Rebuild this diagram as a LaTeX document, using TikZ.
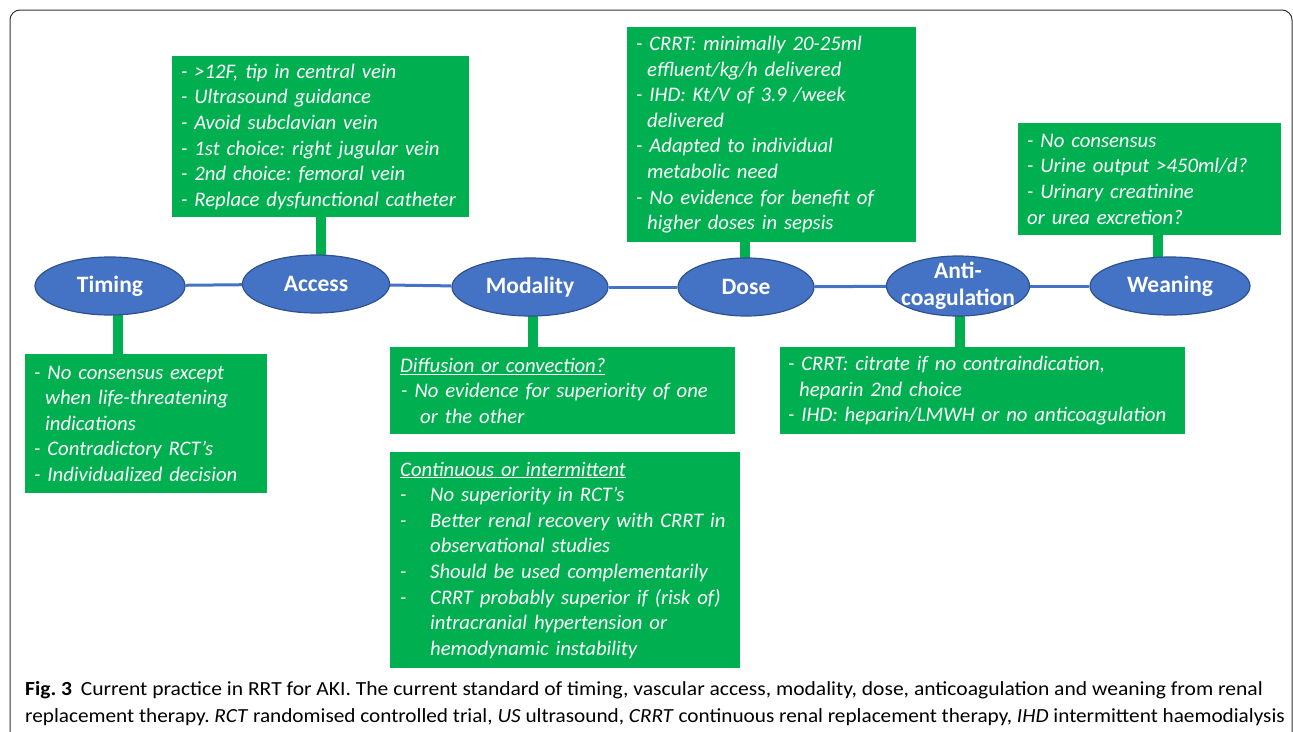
\documentclass[tikz,border=0pt]{standalone}
\usepackage{fontspec}
\setmainfont{Carlito}
\usetikzlibrary{shapes.geometric,backgrounds}
\definecolor{gr}{HTML}{00B050}
\definecolor{bl}{HTML}{4472C4}
\definecolor{bld}{HTML}{2F528F}
\definecolor{frame}{HTML}{333333}
\frenchspacing
\tikzset{
  ell/.style={ellipse, draw=bld, fill=bl, line width=1.2pt, text=white,
    font=\bfseries\fontsize{23.5}{27}\selectfont, inner sep=0pt, align=center},
  gbox/.style={fill=gr, text=white, anchor=north west, inner ysep=0pt, inner xsep=9pt,
    font=\itshape\fontsize{20.7}{25.6}\selectfont, align=left},
  stem/.style={draw=gr, line width=10pt},
  link/.style={draw=bl, line width=3pt},
  captext/.style={anchor=base west, inner sep=0pt, font=\fontsize{20}{24}\selectfont}
}
\newcommand{\ind}{\hspace*{11pt}}
\newcommand{\dsh}{\makebox[30pt][l]{-}}
\begin{document}
\begin{tikzpicture}[x=1pt,y=-1pt]
\useasboundingbox (0,0) rectangle (1293,731);
\draw[frame, line width=1pt, rounded corners=10pt] (10,760) -- (10,10) -- (1292,10) -- (1292,760);

% ellipses
\node[ell, minimum width=150pt, minimum height=58pt] (timing) at (110,286) {Timing};
\node[ell, minimum width=147pt, minimum height=58pt] (access) at (316,284) {Access};
\node[ell, minimum width=156pt, minimum height=58pt] (modality) at (530,287) {Modality};
\node[ell, minimum width=136pt, minimum height=58pt] (dose) at (746,287) {Dose};
\node[ell, minimum width=143pt, minimum height=60pt, inner xsep=-14pt, inner ysep=-7pt] (anti) at (958,286) {Anti-\\coagulation};
\node[ell, minimum width=160pt, minimum height=58pt] (weaning) at (1170,286) {Weaning};

% boxes
\node[gbox, minimum width=297pt, minimum height=161pt, text width=279pt] (accbox) at (172,56) {%
- >12F, tip in central vein\\
- Ultrasound guidance\\
- Avoid subclavian vein\\
- 1st choice: right jugular vein\\
- 2nd choice: femoral vein\\
- Replace dysfunctional catheter};

\node[gbox, minimum width=289pt, minimum height=215pt, text width=271pt] (dosebox) at (627,27) {%
- CRRT: minimally 20-25ml\\
\ind effluent/kg/h delivered\\
- IHD: Kt/V of 3.9 /week\\
\ind delivered\\
- Adapted to individual\\
\ind metabolic need\\
- No evidence for benefit of\\
\ind higher doses in sepsis};

\node[gbox, minimum width=263pt, minimum height=112pt, text width=245pt] (weanbox) at (1018,123) {%
- No consensus\\
- Urine output >450ml/d?\\
- Urinary creatinine\\
or urea excretion?};

\node[gbox, minimum width=242pt, minimum height=139pt, text width=224pt] (timbox) at (25,354) {%
- No consensus except\\
\ind when life-threatening\\
\ind indications\\
- Contradictory RCT’s\\
- Individualized decision};

\node[gbox, inner xsep=10pt, minimum width=345pt, minimum height=87pt, text width=325pt] (modbox) at (390,347) {%
\underline{Diffusion or convection?}\\
\hspace*{1pt}-\hspace*{7pt}No evidence for superiority of one\\
\hspace*{20pt}or the other};

\node[gbox, inner xsep=10pt, minimum width=350pt, minimum height=216pt, text width=330pt] (modbox2) at (390,452) {%
\underline{Continuous or intermittent}\\
\dsh No superiority in RCT’s\\
\dsh Better renal recovery with CRRT in\\
\hspace*{30pt}observational studies\\
\dsh Should be used complementarily\\
\dsh CRRT probably superior if (risk of)\\
\hspace*{30pt}intracranial hypertension or\\
\hspace*{30pt}hemodynamic instability};

\node[gbox, inner xsep=8pt, minimum width=405pt, minimum height=87pt, text width=389pt] (antibox) at (780,347) {%
- CRRT: citrate if no contraindication,\\
\ind heparin 2nd choice\\
- IHD: heparin/LMWH or no anticoagulation};

\begin{scope}[on background layer]
\draw[stem] (accbox.south) -- (accbox.south |- access.center);
\draw[stem] ([xshift=-1pt]dose.center |- dosebox.south) -- ([xshift=-1pt]dose.center);
\draw[stem] ([xshift=-12pt]weaning.center |- weanbox.south) -- ([xshift=-12pt]weaning.center);
\draw[stem] ([xshift=8pt]timing.center) -- ([xshift=8pt]timing.center |- timbox.north);
\draw[stem] ([xshift=3pt]modality.center) -- ([xshift=3pt]modality.center |- modbox.north);
\draw[stem] ([xshift=2pt]anti.center) -- ([xshift=2pt]anti.center |- antibox.north);
\draw[link] (timing) -- (access);
\draw[link] (access) -- (modality);
\draw[link] (modality) -- (dose);
\draw[link] (dose) -- (anti);
\draw[link] (anti) -- (weaning);
\end{scope}

% caption
\node[captext] (cap1) at (25,695) {\scalebox{1.078}[1]{\textbf{Fig. 3}\hspace{8pt}Current practice in RRT for AKI. The current standard of timing, vascular access, modality, dose, anticoagulation and weaning from renal}};
\node[captext] (cap2) at (25,722) {\scalebox{1.062}[1]{replacement therapy. \textit{RCT} randomised controlled trial, \textit{US} ultrasound, \textit{CRRT} continuous renal replacement therapy, \textit{IHD} intermittent haemodialysis}};
\end{tikzpicture}
\end{document}
